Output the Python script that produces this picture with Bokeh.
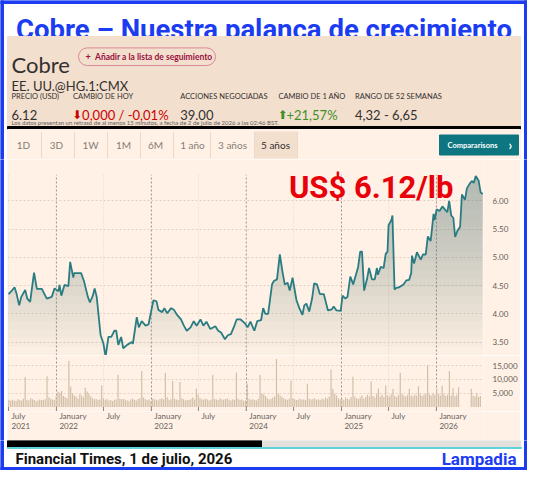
import numpy as np
import pandas as pd
from bokeh.plotting import figure
from bokeh.models import Range1d, FixedTicker, Grid, NumeralTickFormatter, GridBox
from bokeh.embed import file_html
from bokeh.resources import INLINE
from bokeh.core.properties import value

# ---------------- data ----------------
TITLE = "Cobre – Nuestra palanca de crecimiento"
NAME = "Cobre"
WATCH = "Añadir a la lista de seguimiento"
TICKER = "EE. UU.@HG.1:CMX"
stat_labels = ["PRECIO (USD)", "CAMBIO DE HOY", "ACCIONES NEGOCIADAS", "CAMBIO DE 1 AÑO", "RANGO DE 52 SEMANAS"]
stat_values = ["6.12", "0,000 / -0,01%", "39.00", "+21,57%", "4,32 - 6,65"]
FOOTNOTE = "Los datos presentan un retraso de al menos 15 minutos, a fecha de 2 de julio de 2026 a las 02:46 BST."
tab_labels = ["1D", "3D", "1W", "1M", "6M", "1 año", "3 años", "5 años"]
COMPARE = "Compararisons"
PRICE_LABEL = "US$ 6.12/lb"
SOURCE = "Financial Times, 1 de julio, 2026"
BRAND = "Lampadia"

price_dates = [
    "2021-07-01", "2021-07-12", "2021-07-24", "2021-07-31", "2021-08-11", "2021-08-19", "2021-09-03", "2021-09-11",
    "2021-09-22", "2021-10-07", "2021-10-18", "2021-11-06", "2021-11-25", "2021-12-14", "2021-12-25",
    "2022-01-09", "2022-01-13", "2022-01-20", "2022-02-01", "2022-02-16", "2022-02-23", "2022-03-07", "2022-03-10",
    "2022-04-06", "2022-04-17", "2022-05-02", "2022-05-10", "2022-05-21", "2022-05-28", "2022-06-05", "2022-06-20",
    "2022-07-01", "2022-07-09", "2022-07-20", "2022-07-31", "2022-08-12", "2022-08-19", "2022-08-27", "2022-09-07",
    "2022-09-15", "2022-09-30", "2022-10-18", "2022-10-22", "2022-11-06", "2022-11-14", "2022-11-25", "2022-12-10",
    "2022-12-21",
    "2023-01-09", "2023-01-21", "2023-01-28", "2023-02-12", "2023-02-20", "2023-03-03", "2023-03-18", "2023-03-29",
    "2023-04-10", "2023-04-25", "2023-05-06", "2023-05-17", "2023-06-01", "2023-06-13", "2023-06-24", "2023-07-09",
    "2023-07-20", "2023-08-01", "2023-08-16", "2023-09-04", "2023-09-15", "2023-09-26", "2023-10-11", "2023-10-22",
    "2023-11-03", "2023-11-18", "2023-11-25", "2023-12-10", "2023-12-25",
    "2024-01-06", "2024-01-17", "2024-02-01", "2024-02-12", "2024-02-27", "2024-03-06", "2024-03-14", "2024-03-25",
    "2024-04-01", "2024-04-09", "2024-04-16", "2024-04-28", "2024-05-09", "2024-05-20", "2024-05-28", "2024-06-08",
    "2024-06-16", "2024-06-27", "2024-07-12", "2024-07-23", "2024-08-04", "2024-08-11", "2024-08-19", "2024-08-30",
    "2024-09-10", "2024-09-18", "2024-09-29", "2024-10-10", "2024-10-25", "2024-11-10", "2024-11-25", "2024-12-02",
    "2024-12-13", "2024-12-29",
    "2025-01-05", "2025-01-16", "2025-01-24", "2025-02-04", "2025-02-15", "2025-03-06", "2025-03-14", "2025-03-21",
    "2025-03-29", "2025-04-09", "2025-04-17", "2025-04-28", "2025-05-09", "2025-05-17", "2025-05-21", "2025-06-01",
    "2025-06-12", "2025-06-20", "2025-06-27", "2025-07-01", "2025-07-12", "2025-07-16", "2025-07-24", "2025-07-31",
    "2025-08-11", "2025-08-27", "2025-09-07", "2025-09-18", "2025-09-26", "2025-09-29", "2025-10-07", "2025-10-18",
    "2025-11-02", "2025-11-10", "2025-11-21", "2025-11-29", "2025-12-10", "2025-12-21", "2025-12-25",
    "2026-01-02", "2026-01-13", "2026-01-24", "2026-02-04", "2026-02-12", "2026-02-19", "2026-02-27", "2026-03-07",
    "2026-03-14", "2026-03-22", "2026-04-02", "2026-04-09", "2026-04-21", "2026-04-28", "2026-05-10", "2026-05-17",
    "2026-05-25", "2026-06-01", "2026-06-12", "2026-06-20", "2026-06-28",
]
price_values = [
    4.35, 4.40, 4.47, 4.37, 4.15, 4.30, 4.42, 4.27, 4.21, 4.73, 4.44, 4.44, 4.27, 4.30, 4.45,
    4.40, 4.51, 4.32, 4.51, 4.49, 4.92, 4.64, 4.72, 4.72, 4.58, 4.30, 4.20, 4.32, 4.45, 4.30, 3.62,
    3.47, 3.24, 3.59, 3.59, 3.70, 3.70, 3.45, 3.59, 3.39, 3.45, 3.50, 3.47, 3.94, 3.76, 3.87, 3.79, 3.81,
    4.24, 4.22, 4.07, 4.03, 4.10, 4.01, 4.10, 4.07, 3.98, 3.90, 3.79, 3.70, 3.76, 3.87, 3.79, 3.90,
    3.79, 3.86, 3.73, 3.78, 3.70, 3.67, 3.55, 3.62, 3.64, 3.81, 3.90, 3.90, 3.84,
    3.76, 3.86, 3.70, 3.87, 3.89, 4.10, 4.00, 4.00, 4.24, 4.52, 4.58, 4.61, 5.05, 4.72, 4.52, 4.55,
    4.41, 4.64, 4.24, 4.10, 3.98, 4.15, 4.18, 4.04, 4.27, 4.54, 4.52, 4.35, 4.35, 4.06, 4.08, 4.13,
    4.06, 4.05,
    4.32, 4.27, 4.30, 4.66, 4.52, 4.83, 5.10, 5.10, 4.41, 4.61, 4.81, 4.61, 4.61, 4.81, 4.69, 4.83,
    4.81, 5.06, 5.10, 5.57, 5.66, 5.74, 4.43, 4.46, 4.47, 4.52, 4.59, 4.60, 4.72, 5.03, 4.89, 5.09,
    4.96, 5.05, 5.05, 5.37, 5.29, 5.77, 5.66,
    5.85, 5.82, 5.90, 5.84, 5.80, 6.00, 5.74, 5.70, 5.36, 5.46, 5.54, 6.11, 6.02, 6.22, 6.31, 6.35,
    6.32, 6.44, 6.36, 6.15, 6.12,
]

# weekly volume (thousands of contracts), first week 2021-07-02
vol_first_week = "2021-07-02"
vol_thousands = [
    2.5, 2.3, 2.6, 2.4, 2.2, 2.8, 2.5, 2.4, 3.0, 10.9, 2.6, 2.4, 3.2, 2.8, 2.5, 2.2, 2.4, 2.7, 2.5, 2.6,
    2.8, 11.1, 3.5, 3.0, 2.7, 2.5, 3.8, 5.5, 5.2, 5.8, 4.0, 3.6, 3.2, 16.7, 7.4, 5.0, 4.2, 3.8, 3.0, 4.6,
    4.2, 3.5, 7.0, 5.6, 4.8, 3.9, 3.2, 2.8, 2.9, 2.6, 2.7, 7.8, 3.2, 2.6, 2.9, 2.4, 2.5, 2.2, 2.6, 2.8,
    11.6, 3.0, 2.8, 2.9, 2.6, 2.4, 2.2, 2.7, 3.0, 2.6, 2.4, 2.9, 3.2, 13.0, 3.4, 2.8, 2.5, 2.7, 2.3, 3.0,
    2.8, 2.6, 2.4, 2.9, 3.2, 2.8, 12.4, 3.5, 2.6, 2.8, 9.4, 3.0, 2.7, 2.5, 9.1, 3.2, 2.8, 2.4, 2.6, 2.5,
    2.9, 3.4, 2.7, 6.7, 4.5, 3.2, 2.8, 2.6, 3.0, 2.8, 2.4, 2.6, 11.6, 3.0, 2.7, 2.5, 3.2, 2.8, 2.6, 2.9,
    3.1, 2.6, 2.4, 2.8, 2.6, 12.5, 3.0, 2.5, 2.7, 2.3, 2.4, 8.4, 3.0, 2.6, 2.8, 2.5, 2.4, 3.0, 11.6, 5.0,
    4.6, 4.0, 3.2, 2.7, 2.9, 3.4, 3.8, 17.4, 5.0, 4.2, 3.6, 3.2, 2.8, 2.6, 3.0, 9.6, 3.2, 2.8, 2.5, 2.7,
    3.0, 2.6, 2.8, 2.5, 8.4, 3.0, 2.7, 2.9, 3.2, 2.6, 2.8, 2.5, 3.0, 2.7, 3.4, 3.0, 3.8, 13.6, 6.6, 4.8,
    4.2, 3.2, 2.8, 3.0, 2.6, 3.4, 3.0, 2.8, 3.6, 11.0, 3.8, 3.2, 2.9, 3.5, 4.2, 3.0, 3.6, 4.4, 3.8, 9.2,
    4.0, 3.4, 4.6, 6.7, 3.8, 4.4, 3.6, 7.8, 4.2, 3.8, 4.6, 6.5, 4.0, 3.6, 4.4, 12.4, 4.8, 4.2, 3.8, 4.4,
    6.6, 4.2, 3.9, 4.5, 4.1, 7.5, 4.6, 4.0, 4.4, 4.8, 15.0, 4.6, 4.2, 5.0, 4.4, 6.7, 4.8, 4.2, 7.7, 4.6,
    4.0, 4.4, 13.0, 4.2, 6.8, 4.0, 4.4, 7.2, 0, 0, 0, 0, 0, 0, 6.6, 4.2, 3.8, 5.0, 3.6, 4.0,
]

tick_dates = ["2021-07-01", "2022-01-01", "2022-07-01", "2023-01-01", "2023-07-01", "2024-01-01",
              "2024-07-01", "2025-01-01", "2025-07-01", "2026-01-01"]
tick_months = ["July", "January", "July", "January", "July", "January", "July", "January", "July", "January"]
tick_years = ["2021", "2022", "", "2023", "", "2024", "", "2025", "", "2026"]
price_ticks = [3.5, 4.0, 4.5, 5.0, 5.5, 6.0]
volume_ticks = [5000, 10000, 15000]

# ---------------- styles ----------------
BLUE = "#1c3cf2"
WHEAT = "#f2dfce"
PAPER = "#fff1e5"
CLARET = "#990f3d"
DARK = "#33302e"
GREY = "#66605c"
TEAL = "#0d7680"
LINE = "#2a7c83"

pdates = pd.to_datetime(price_dates)
pvals = np.array(price_values)
vdates = pd.date_range(vol_first_week, periods=len(vol_thousands), freq="7D")
vvals = np.array(vol_thousands) * 1000
tdates = pd.to_datetime(tick_dates)
jan = [d for d, m in zip(tdates, tick_months) if m == "January"]
jul = [d for d, m in zip(tdates, tick_months) if m == "July"]
to_ms = lambda ds: [d.timestamp() * 1000 for d in ds]

xr = Range1d(start=pd.Timestamp("2021-06-27"), end=pd.Timestamp("2026-07-01"))
PR_LO, PR_HI = 3.262, 6.731
VOL_LO, VOL_HI = -1630, 18660


def blank(w, h, xrng, yrng, bg):
    p = figure(width=w, height=h, x_range=xrng, y_range=yrng, toolbar_location=None,
               output_backend="svg", min_border=0, x_axis_type=None, y_axis_type=None, title=None)
    p.outline_line_color = None
    p.background_fill_color = bg
    p.border_fill_color = bg
    return p


def txt(p, x, y, s, size, color, font="Lato", style="normal", align="left", baseline="middle"):
    p.text(x=[x], y=[y], text=[s], text_font=value(font), text_font_size=f"{size}px",
           text_font_style=style, text_color=color, text_align=align, text_baseline=baseline)


SIDE = 7
PW = 513
W = PW + 2 * SIDE
TH = 36
HH = 93
TBH = 30
TOP_H = TH + HH + TBH

# ---- title + header + tabs in one figure ----
top = blank(W, TOP_H, Range1d(0, W), Range1d(TOP_H, 0), "white")
top.quad(left=0, right=W, top=0, bottom=3, color=BLUE)
top.quad(left=0, right=3, top=0, bottom=TOP_H, color=BLUE)
top.quad(left=W - 3, right=W, top=0, bottom=TOP_H, color=BLUE)
txt(top, W / 2, 28.5, TITLE, 27.5, BLUE, font="Roboto", style="bold", align="center", baseline="alphabetic")
top.quad(left=SIDE, right=SIDE + PW, top=TH, bottom=TH + HH - 3, color=WHEAT)
top.quad(left=SIDE, right=SIDE + PW, top=TH + HH - 3, bottom=TH + HH, color="black")
X0, Y0 = SIDE, TH
txt(top, X0 + 4, Y0 + 27.5, NAME, 22, DARK, baseline="alphabetic")
top.quad(left=X0 + 71, right=X0 + 208, top=Y0 + 11.4, bottom=Y0 + 29, fill_color=WHEAT, line_color="#d98a97",
         line_width=1, border_radius=9)
txt(top, X0 + 78, Y0 + 20.2, "+", 9, CLARET, style="bold")
txt(top, X0 + 87.5, Y0 + 20.2, WATCH, 8.5, CLARET, style="bold")
txt(top, X0 + 4, Y0 + 49, TICKER, 13, DARK, baseline="alphabetic")
stat_x = [X0 + 4, X0 + 65.6, X0 + 172.7, X0 + 271, X0 + 347.5]
for lab, x in zip(stat_labels, stat_x):
    txt(top, x, Y0 + 60, lab, 7.5, DARK)
VB = Y0 + 78
txt(top, stat_x[0], VB, stat_values[0], 13, DARK, baseline="alphabetic")
txt(top, stat_x[1] - 1, VB, "⬇", 12, "#cc0000", font="DejaVu Sans", baseline="alphabetic")
txt(top, stat_x[1] + 9, VB, stat_values[1], 13, "#cc0000", baseline="alphabetic")
txt(top, stat_x[2], VB, stat_values[2], 13, DARK, baseline="alphabetic")
txt(top, stat_x[3] - 1, VB, "⬆", 12, "#3f8f2a", font="DejaVu Sans", baseline="alphabetic")
txt(top, stat_x[3] + 8, VB, stat_values[3], 13, "#3f8f2a", baseline="alphabetic")
txt(top, stat_x[4], VB, stat_values[4], 13, DARK, baseline="alphabetic")
txt(top, X0 + 4, Y0 + 86.3, FOOTNOTE, 6, GREY)

# tabs row
Y1 = TH + HH
top.quad(left=SIDE, right=SIDE + PW, top=Y1, bottom=TOP_H, color=PAPER)
top.quad(left=X0 + 247, right=X0 + 290, top=Y1 + 2.5, bottom=Y1 + 28.5, color=WHEAT)
seps = [X0 + s for s in (34, 67, 100, 133, 166, 203, 247, 290)]
top.segment(x0=seps, y0=[Y1 + 2.5] * len(seps), x1=seps, y1=[Y1 + 28.5] * len(seps),
            line_color="#ead8c8", line_width=1)
tab_cx = [X0 + c for c in (16, 49, 83, 116, 148, 185, 225, 268)]
for lab, x in zip(tab_labels, tab_cx):
    txt(top, x, Y1 + 15.5, lab, 10, DARK if lab == "5 años" else "#857d77", align="center")
top.quad(left=X0 + 432, right=X0 + 511, top=Y1 + 5.5, bottom=Y1 + 25.5, color=TEAL)
txt(top, X0 + 465, Y1 + 15.5, COMPARE, 7.5, "white", style="bold", align="center")
txt(top, X0 + 503, Y1 + 15, "›", 13, "white", style="bold", align="center")

# ---- price chart ----
PH = 196
pf = figure(width=PW, height=PH, x_range=xr, y_range=Range1d(PR_LO, PR_HI), x_axis_type="datetime",
            x_axis_location=None, y_axis_location="right", toolbar_location=None, output_backend="svg",
            min_border_left=0, min_border_right=30, min_border_top=0, min_border_bottom=0, title=None)
pf.outline_line_color = None
pf.background_fill_color = PAPER
pf.border_fill_color = PAPER
pf.xgrid.visible = False
pf.yaxis.ticker = FixedTicker(ticks=price_ticks)
pf.yaxis.formatter = NumeralTickFormatter(format="0.00")
pf.yaxis.axis_line_color = None
pf.yaxis.major_tick_line_color = None
pf.yaxis.minor_tick_line_color = None
pf.yaxis.major_label_text_font = "Lato"
pf.yaxis.major_label_text_font_size = "8px"
pf.yaxis.major_label_text_color = GREY
pf.yaxis.major_label_standoff = 3
pf.ygrid.grid_line_color = "#e2d2c3"
pf.ygrid.grid_line_dash = "2 2"
GRID_TOP = 6.46
pf.segment(x0=jul, y0=[PR_LO] * len(jul), x1=jul, y1=[GRID_TOP] * len(jul), line_color="#e6d6c8",
           line_dash="1 2", line_width=1)
pf.segment(x0=jan, y0=[PR_LO] * len(jan), x1=jan, y1=[GRID_TOP] * len(jan), line_color="#9b948e",
           line_dash="2 2", line_width=1)
levels = np.linspace(PR_LO, 6.45, 22)
for L in levels:
    pf.varea(x=pdates, y1=np.minimum(pvals, L), y2=pvals, fill_color="#2f6e73", fill_alpha=0.018)
pf.line(pdates, pvals, line_color=LINE, line_width=1.8)
pf.text(x=[pd.Timestamp("2025-04-25")], y=[6.238], text=[PRICE_LABEL], text_font=value("Roboto"),
        text_font_style="bold", text_font_size="31px", text_color="#e8000b", text_align="center",
        text_baseline="alphabetic")

# ---- volume chart ----
VH = 56
vf = figure(width=PW, height=VH, x_range=xr, y_range=Range1d(VOL_LO, VOL_HI), x_axis_type="datetime",
            x_axis_location=None, y_axis_location="right", toolbar_location=None, output_backend="svg",
            min_border_left=0, min_border_right=30, min_border_top=0, min_border_bottom=0, title=None)
vf.outline_line_color = None
vf.background_fill_color = PAPER
vf.border_fill_color = PAPER
vf.yaxis.ticker = FixedTicker(ticks=volume_ticks)
vf.yaxis.formatter = NumeralTickFormatter(format="0,0")
vf.yaxis.axis_line_color = None
vf.yaxis.major_tick_line_color = None
vf.yaxis.minor_tick_line_color = None
vf.yaxis.major_label_text_font = "Lato"
vf.yaxis.major_label_text_font_size = "8px"
vf.yaxis.major_label_text_color = GREY
vf.yaxis.major_label_standoff = 3
vf.ygrid.grid_line_color = "#e2d2c3"
vf.ygrid.grid_line_dash = "2 2"
vf.xgrid.ticker = FixedTicker(ticks=to_ms(jan))
vf.xgrid.grid_line_color = "#9b948e"
vf.xgrid.grid_line_dash = "2 2"
vf.add_layout(Grid(dimension=0, ticker=FixedTicker(ticks=to_ms(jul)), grid_line_color="#e6d6c8",
                   grid_line_dash="1 2"), "center")
vf.vbar(x=vdates, top=vvals, width=4.6 * 86400000, fill_color="#d3bfa9", line_color=None)
vf.segment(x0=tdates, y0=[0] * len(tdates), x1=tdates, y1=[VOL_LO] * len(tdates), line_color="#8d8580",
           line_width=1)

# ---- x labels ----
LH = 29
lf = figure(width=PW, height=LH, x_range=xr, y_range=Range1d(LH, 0), x_axis_type="datetime",
            x_axis_location=None, y_axis_location=None, toolbar_location=None, output_backend="svg",
            min_border_left=0, min_border_right=30, min_border_top=0, min_border_bottom=0, title=None)
lf.outline_line_color = None
lf.background_fill_color = PAPER
lf.border_fill_color = PAPER
lf.grid.visible = False
lf.text(x=tdates, y=[4.5] * len(tdates), text=tick_months, x_offset=3, text_font=value("Lato"),
        text_font_size="8px", text_color=GREY, text_align="left", text_baseline="middle")
lf.text(x=tdates, y=[14.5] * len(tdates), text=tick_years, x_offset=3, text_font=value("Lato"),
        text_font_size="8px", text_color=GREY, text_align="left", text_baseline="middle")

# ---- scroll bar + footer in one figure (with bottom/side blue border) ----
SH = 7
FH = 23
BOT_H = SH + FH
ff = blank(W, BOT_H, Range1d(0, W), Range1d(BOT_H, 0), "white")
ff.quad(left=SIDE + 254, right=SIDE + PW, top=0, bottom=SH, color="#e4e0dc")
ff.quad(left=SIDE, right=SIDE + 254, top=0, bottom=SH, color="black")
ff.quad(left=0, right=W, top=BOT_H - 3, bottom=BOT_H, color=BLUE)
ff.quad(left=0, right=3, top=0, bottom=BOT_H, color=BLUE)
ff.quad(left=W - 3, right=W, top=0, bottom=BOT_H, color=BLUE)
ff.quad(left=SIDE, right=W - 6, top=SH, bottom=SH + 1, color="#5fd3dc")
txt(ff, 15, SH + 11.5, SOURCE, 15, "#111111", font="Roboto", style="bold")
txt(ff, W - 11, SH + 11.5, BRAND, 17, BLUE, font="Roboto", style="bold", align="right")

# ---- side borders (3px blue + 4px white) for the chart block ----
MID_H = PH + VH + LH
left_b = blank(SIDE, MID_H, Range1d(0, SIDE), Range1d(0, 1), "white")
left_b.quad(left=0, right=3, bottom=0, top=1, color=BLUE)
right_b = blank(SIDE, MID_H, Range1d(0, SIDE), Range1d(0, 1), "white")
right_b.quad(left=SIDE - 3, right=SIDE, bottom=0, top=1, color=BLUE)

grid = GridBox(children=[
    (top, 0, 0, 1, 3),
    (left_b, 1, 0, 3, 1),
    (pf, 1, 1), (vf, 2, 1), (lf, 3, 1),
    (right_b, 1, 2, 3, 1),
    (ff, 4, 0, 1, 3),
], spacing=0)

open("out.html", "w").write(file_html(grid, INLINE))
